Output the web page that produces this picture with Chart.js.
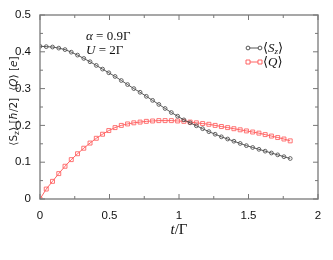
<!DOCTYPE html>
<html>
<head>
<meta charset="utf-8">
<script src="https://cdn.jsdelivr.net/npm/chart.js@4"></script>
<style>
  html, body { margin: 0; padding: 0; background: #fff; }
  #wrap { width: 333px; height: 260px; }
</style>
</head>
<body>
<div id="wrap"><canvas id="c" width="333" height="260"></canvas></div>
<script>
// time axis t/Γ
const times = [0, 0.045, 0.09, 0.135, 0.18, 0.225, 0.27, 0.315, 0.36, 0.405,
  0.45, 0.495, 0.54, 0.585, 0.63, 0.675, 0.72, 0.765, 0.81, 0.855,
  0.9, 0.945, 0.99, 1.035, 1.08, 1.125, 1.17, 1.215, 1.26, 1.305,
  1.35, 1.395, 1.44, 1.485, 1.53, 1.575, 1.62, 1.665, 1.71, 1.755, 1.8];

const spinSz = [0.415, 0.414, 0.413, 0.410, 0.406, 0.399, 0.391, 0.382, 0.373, 0.363,
  0.353, 0.343, 0.333, 0.322, 0.311, 0.300, 0.290, 0.279, 0.268, 0.257,
  0.246, 0.235, 0.225, 0.215, 0.207, 0.199, 0.191, 0.183, 0.176, 0.169,
  0.163, 0.157, 0.151, 0.145, 0.140, 0.135, 0.130, 0.125, 0.120, 0.115, 0.110];

const chargeQ = [0.000, 0.027, 0.048, 0.069, 0.089, 0.107, 0.123, 0.138, 0.152, 0.165,
  0.176, 0.186, 0.194, 0.200, 0.204, 0.207, 0.209, 0.211, 0.212, 0.213,
  0.213, 0.213, 0.212, 0.211, 0.209, 0.207, 0.205, 0.203, 0.200, 0.197,
  0.194, 0.191, 0.188, 0.185, 0.182, 0.179, 0.175, 0.171, 0.167, 0.163, 0.158];

const xTicks = [0, 0.5, 1, 1.5, 2];
const yTicks = [0, 0.1, 0.2, 0.3, 0.4, 0.5];

const black = "#444";
const red = "#ff5252";
const serif = "'Liberation Serif', 'DejaVu Serif', serif";
const ysans = "'DejaVu Sans', sans-serif";

// draws pieces of text one after another along the baseline
function drawRuns(ctx, runs, x, y, align) {
  let total = 0;
  runs.forEach(r => { ctx.font = r.font; total += ctx.measureText(r.text).width + (r.gap || 0); });
  let cx = align === "center" ? x - total / 2 : x;
  ctx.textAlign = "left";
  ctx.textBaseline = "alphabetic";
  runs.forEach(r => {
    ctx.font = r.font;
    ctx.fillText(r.text, cx, y + (r.dy || 0));
    cx += ctx.measureText(r.text).width + (r.gap || 0);
  });
}

const decor = {
  id: "decor",
  afterDraw(chart) {
    const ctx = chart.ctx;
    const a = chart.chartArea;
    const xs = chart.scales.x, ys = chart.scales.y;
    ctx.save();

    // frame
    ctx.strokeStyle = "#8a8a8a";
    ctx.lineWidth = 1.5;
    ctx.strokeRect(a.left, a.top, a.right - a.left, a.bottom - a.top);

    // inward ticks on all sides
    ctx.lineWidth = 1;
    ctx.strokeStyle = "#777";
    ctx.beginPath();
    for (let i = 0; i <= 8; i++) {
      const px = xs.getPixelForValue(i * 0.25);
      const len = i % 2 === 0 ? 5 : 3;
      ctx.moveTo(px, a.bottom); ctx.lineTo(px, a.bottom - len);
      ctx.moveTo(px, a.top); ctx.lineTo(px, a.top + len);
    }
    for (let i = 0; i <= 10; i++) {
      const py = ys.getPixelForValue(i * 0.05);
      const len = i % 2 === 0 ? 5 : 3;
      ctx.moveTo(a.left, py); ctx.lineTo(a.left + len, py);
      ctx.moveTo(a.right, py); ctx.lineTo(a.right - len, py);
    }
    ctx.stroke();

    // parameter annotation
    ctx.fillStyle = "#111";
    drawRuns(ctx, [
      { text: "α", font: "italic 13px " + serif },
      { text: " = 0.9Γ", font: "13px " + serif }
    ], 86, 40);
    drawRuns(ctx, [
      { text: "U", font: "italic 13px " + serif },
      { text: " = 2Γ", font: "13px " + serif }
    ], 86, 54);

    // legend
    const lx0 = 248, lx1 = 260;
    [[48, black, "circle"], [62, red, "rect"]].forEach(([ly, col, shape]) => {
      ctx.strokeStyle = col;
      ctx.lineWidth = 0.9;
      ctx.beginPath(); ctx.moveTo(lx0, ly); ctx.lineTo(lx1, ly); ctx.stroke();
      [lx0, lx1].forEach(px => {
        ctx.beginPath();
        if (shape === "circle") ctx.arc(px, ly, 1.9, 0, Math.PI * 2);
        else ctx.rect(px - 2, ly - 2, 4, 4);
        ctx.fillStyle = "#fff"; ctx.fill(); ctx.stroke();
      });
    });
    ctx.fillStyle = "#111";
    drawRuns(ctx, [
      { text: "⟨", font: "13px " + serif },
      { text: "S", font: "italic 13px " + serif },
      { text: "z", font: "italic 9px " + serif, dy: 2 },
      { text: "⟩", font: "13px " + serif }
    ], 263, 52);
    drawRuns(ctx, [
      { text: "⟨", font: "13px " + serif },
      { text: "Q", font: "italic 13px " + serif },
      { text: "⟩", font: "13px " + serif }
    ], 263, 66);

    // x axis title
    drawRuns(ctx, [
      { text: "t", font: "italic 15px " + serif },
      { text: "/Γ", font: "15px " + serif }
    ], (a.left + a.right) / 2, 234, "center");

    // y axis title
    ctx.translate(17, 101);
    ctx.rotate(-Math.PI / 2);
    ctx.fillStyle = "#222";
    drawRuns(ctx, [
      { text: "⟨S", font: "10.5px " + ysans },
      { text: "z", font: "7.5px " + ysans, dy: 2 },
      { text: "⟩ [", font: "10.5px " + ysans },
      { text: "ħ", font: "italic 10.5px " + ysans },
      { text: "/2]", font: "10.5px " + ysans, gap: 7 },
      { text: "⟨", font: "10.5px " + ysans },
      { text: "Q", font: "italic 10.5px " + ysans },
      { text: "⟩ [", font: "10.5px " + ysans },
      { text: "e", font: "italic 10.5px " + ysans },
      { text: "]", font: "10.5px " + ysans }
    ], 0, 0, "center");

    ctx.restore();
  }
};

new Chart(document.getElementById("c"), {
  type: "line",
  data: {
    datasets: [
      {
        label: "Sz",
        data: times.map((t, i) => ({ x: t, y: spinSz[i] })),
        borderColor: black,
        borderWidth: 0.9,
        pointStyle: "circle",
        pointRadius: 1.9,
        pointBorderWidth: 0.9,
        pointBorderColor: "#555",
        pointBackgroundColor: "rgba(255,255,255,0)",
        tension: 0
      },
      {
        label: "Q",
        data: times.map((t, i) => ({ x: t, y: chargeQ[i] })),
        borderColor: red,
        borderWidth: 0.9,
        pointStyle: "rect",
        pointRadius: 2.8,
        pointBorderWidth: 0.9,
        pointBorderColor: "#ff6464",
        pointBackgroundColor: "rgba(255,255,255,0)",
        tension: 0
      }
    ]
  },
  options: {
    responsive: false,
    animation: false,
    devicePixelRatio: 1,
    layout: { padding: { left: 0, right: 15, top: 15, bottom: 0 } },
    plugins: { legend: { display: false }, tooltip: { enabled: false } },
    scales: {
      x: {
        type: "linear",
        min: 0, max: 2,
        afterFit: s => { s.height = 61; },
        afterBuildTicks: s => { s.ticks = xTicks.map(v => ({ value: v })); },
        grid: { display: false },
        border: { display: false },
        ticks: {
          padding: 2,
          color: "#111",
          font: { family: "Liberation Sans", size: 11.5 },
          maxRotation: 0,
          callback: v => String(v)
        }
      },
      y: {
        type: "linear",
        min: 0, max: 0.5,
        afterFit: s => { s.width = 40; },
        afterBuildTicks: s => { s.ticks = yTicks.map(v => ({ value: v })); },
        grid: { display: false },
        border: { display: false },
        ticks: {
          padding: 1,
          color: "#111",
          font: { family: "Liberation Sans", size: 11.5 },
          callback: v => String(Math.round(v * 10) / 10)
        }
      }
    }
  },
  plugins: [decor]
});
</script>
</body>
</html>
